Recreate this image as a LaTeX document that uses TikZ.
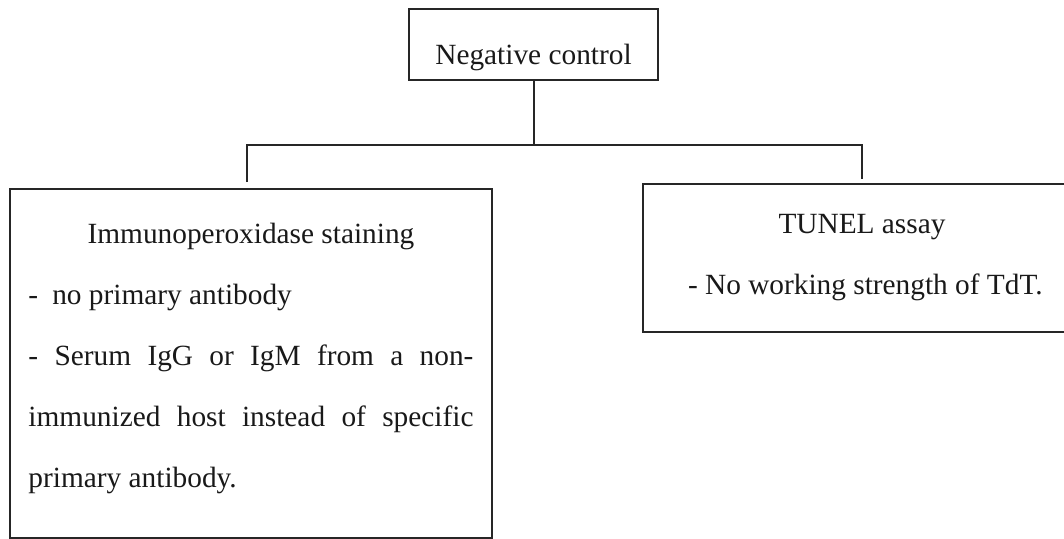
\documentclass[tikz,border=0pt]{standalone}
\usepackage{fontspec}
\setmainfont{Liberation Serif}
\begin{document}
\begin{tikzpicture}[x=0.75pt,y=-0.75pt,
  boxnode/.style={draw=black!85, line width=1.5pt, inner sep=0pt,
    font=\fontsize{22}{45.75}\selectfont, text=black!90},
  wire/.style={draw=black!85, line width=1.5pt}]
\useasboundingbox (0,0) rectangle (1064,539);
\clip (0,0) rectangle (1064,539);
% top box
\node[boxnode, minimum width=186.75pt, text height=41.25pt, text depth=12pt]
  (neg) at (533.5,44.5) {Negative control};
% left box
\node[boxnode, minimum width=361.5pt, minimum height=261.75pt] (imm) at (251,363.5)
  {\parbox{333.75pt}{\baselineskip=45.75pt\centering Immunoperoxidase staining\par
   \raggedright -\hspace{0.48em}no primary antibody\par
   \hbox to\hsize{-\hfill Serum\hfill IgG\hfill or\hfill IgM\hfill from\hfill a\hfill non-}
   \hbox to\hsize{immunized\hfill host\hfill instead\hfill of\hfill specific}
   primary antibody.\par\vspace{8pt}}};
% right box (extends past the right edge)
\node[boxnode, minimum width=328.5pt, minimum height=111pt] (tun) at (862,258)
  {\parbox{291pt}{\baselineskip=45.75pt\centering TUNEL assay\par
   \raggedright\hspace*{15pt}- No working strength of TdT.}};
% connectors
\coordinate (busL) at (247,145);
\coordinate (busR) at (862,145);
\coordinate (dropL) at (247,182);
\coordinate (dropR) at (862,179);
\draw[wire] (neg.south) -- (neg.south |- busL);
\draw[wire] (dropL) -- (busL) -- (busR) -- (dropR);
\end{tikzpicture}
\end{document}
